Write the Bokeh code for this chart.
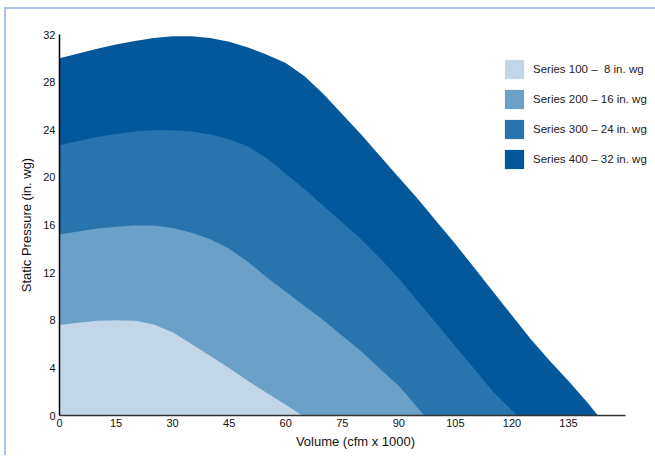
from bokeh.plotting import figure
from bokeh.models import Legend, LegendItem, Range1d, FixedTicker
from bokeh.embed import file_html
from bokeh.resources import INLINE

# Data (volume in cfm x 1000, static pressure in in. wg)
x400 = [0, 5, 10, 15, 20, 25, 30, 35, 40, 45, 50, 55, 60, 65, 70, 75, 80, 85, 90,
        95, 100, 105, 110, 115, 120, 125, 130, 135, 140, 142.8]
y400 = [30.0, 30.4, 30.8, 31.15, 31.45, 31.7, 31.85, 31.85, 31.7, 31.4, 30.9, 30.3,
        29.6, 28.5, 27.0, 25.3, 23.6, 21.8, 20.0, 18.2, 16.3, 14.4, 12.4, 10.4, 8.4,
        6.4, 4.6, 2.9, 1.1, 0]

x300 = [0, 5, 10, 15, 20, 25, 30, 35, 40, 45, 50, 55, 60, 65, 70, 75, 80, 85, 90,
        95, 100, 105, 110, 115, 121.3]
y300 = [22.7, 23.05, 23.4, 23.65, 23.85, 23.95, 23.95, 23.85, 23.6, 23.2, 22.6, 21.6,
        20.3, 19.0, 17.6, 16.2, 14.8, 13.2, 11.5, 9.6, 7.7, 5.8, 3.9, 2.0, 0]

x200 = [0, 5, 10, 15, 20, 25, 30, 35, 40, 45, 50, 55, 60, 65, 70, 75, 80, 85, 90, 96.7]
y200 = [15.2, 15.45, 15.7, 15.85, 15.95, 15.95, 15.75, 15.35, 14.8, 14.0, 12.9, 11.6,
        10.4, 9.2, 8.0, 6.7, 5.4, 3.9, 2.5, 0]

x100 = [0, 5, 10, 15, 20, 25, 30, 35, 40, 45, 50, 55, 60, 64.4]
y100 = [7.6, 7.8, 7.95, 8.0, 7.95, 7.65, 7.0, 6.0, 5.0, 4.0, 2.9, 1.9, 0.9, 0]

labels = ["Series 100 \u2013  8 in. wg", "Series 200 \u2013 16 in. wg",
          "Series 300 \u2013 24 in. wg", "Series 400 \u2013 32 in. wg"]
colors = ["#c2d6e8", "#6ba0c8", "#2a74ad", "#03589b"]

x_ticks = [0, 15, 30, 45, 60, 75, 90, 105, 120, 135]
y_ticks = [0, 4, 8, 12, 16, 20, 24, 28, 32]

FONT = "Liberation Sans"

p = figure(width=655, height=455, output_backend="svg", toolbar_location=None,
           x_range=Range1d(0, 157), y_range=Range1d(0, 32),
           min_border_left=59, min_border_top=34, min_border_right=4, min_border_bottom=40,
           styles={"background-color": "white",
                   "box-shadow": "inset 4px 7px 0 0 white, inset 6px 9px 0 0 #a9c4e8"})
p.outline_line_color = None
p.grid.visible = False
p.background_fill_color = None
p.border_fill_color = None

series = [(x400, y400), (x300, y300), (x200, y200), (x100, y100)]
rends = []
for (xs, ys), c in zip(series, colors[::-1]):
    r = p.varea(x=xs, y1=[0] * len(xs), y2=ys, fill_color=c, fill_alpha=1.0)
    rends.append(r)
rends = rends[::-1]

legend = Legend(items=[LegendItem(label=l, renderers=[r]) for l, r in zip(labels, rends)],
                location=(443, 244), orientation="vertical",
                glyph_width=24, glyph_height=24, spacing=6, padding=0, margin=0,
                label_standoff=7, border_line_color=None, background_fill_alpha=0,
                label_text_font=FONT, label_text_font_size="11.5px",
                label_text_color="#222222", label_height=24)
p.add_layout(legend)

for ax in (p.xaxis[0], p.yaxis[0]):
    ax.major_tick_line_color = None
    ax.minor_tick_line_color = None
    ax.major_tick_out = 0
    ax.major_tick_in = 0
    ax.minor_tick_out = 0
    ax.minor_tick_in = 0
    ax.major_label_text_font = FONT
    ax.major_label_text_font_size = "11px"
    ax.major_label_text_color = "#111111"
    ax.axis_label_text_font = FONT
    ax.axis_label_text_font_size = "13px"
    ax.axis_label_text_font_style = "normal"
    ax.axis_label_text_color = "#111111"
    ax.axis_line_width = 1.5

p.xaxis.bounds = (0, 150)
p.xaxis.ticker = FixedTicker(ticks=x_ticks)
p.yaxis.ticker = FixedTicker(ticks=y_ticks)
p.xaxis.axis_label = "Volume (cfm x 1000)"
p.yaxis.axis_label = "Static Pressure (in. wg)"
p.xaxis.axis_line_color = "#333333"
p.yaxis.axis_line_color = "#000000"
p.xaxis.major_label_standoff = 3
p.yaxis.major_label_standoff = 4
p.xaxis.axis_label_standoff = 4
p.yaxis.axis_label_standoff = 6

open("out.html", "w").write(file_html(p, INLINE))
